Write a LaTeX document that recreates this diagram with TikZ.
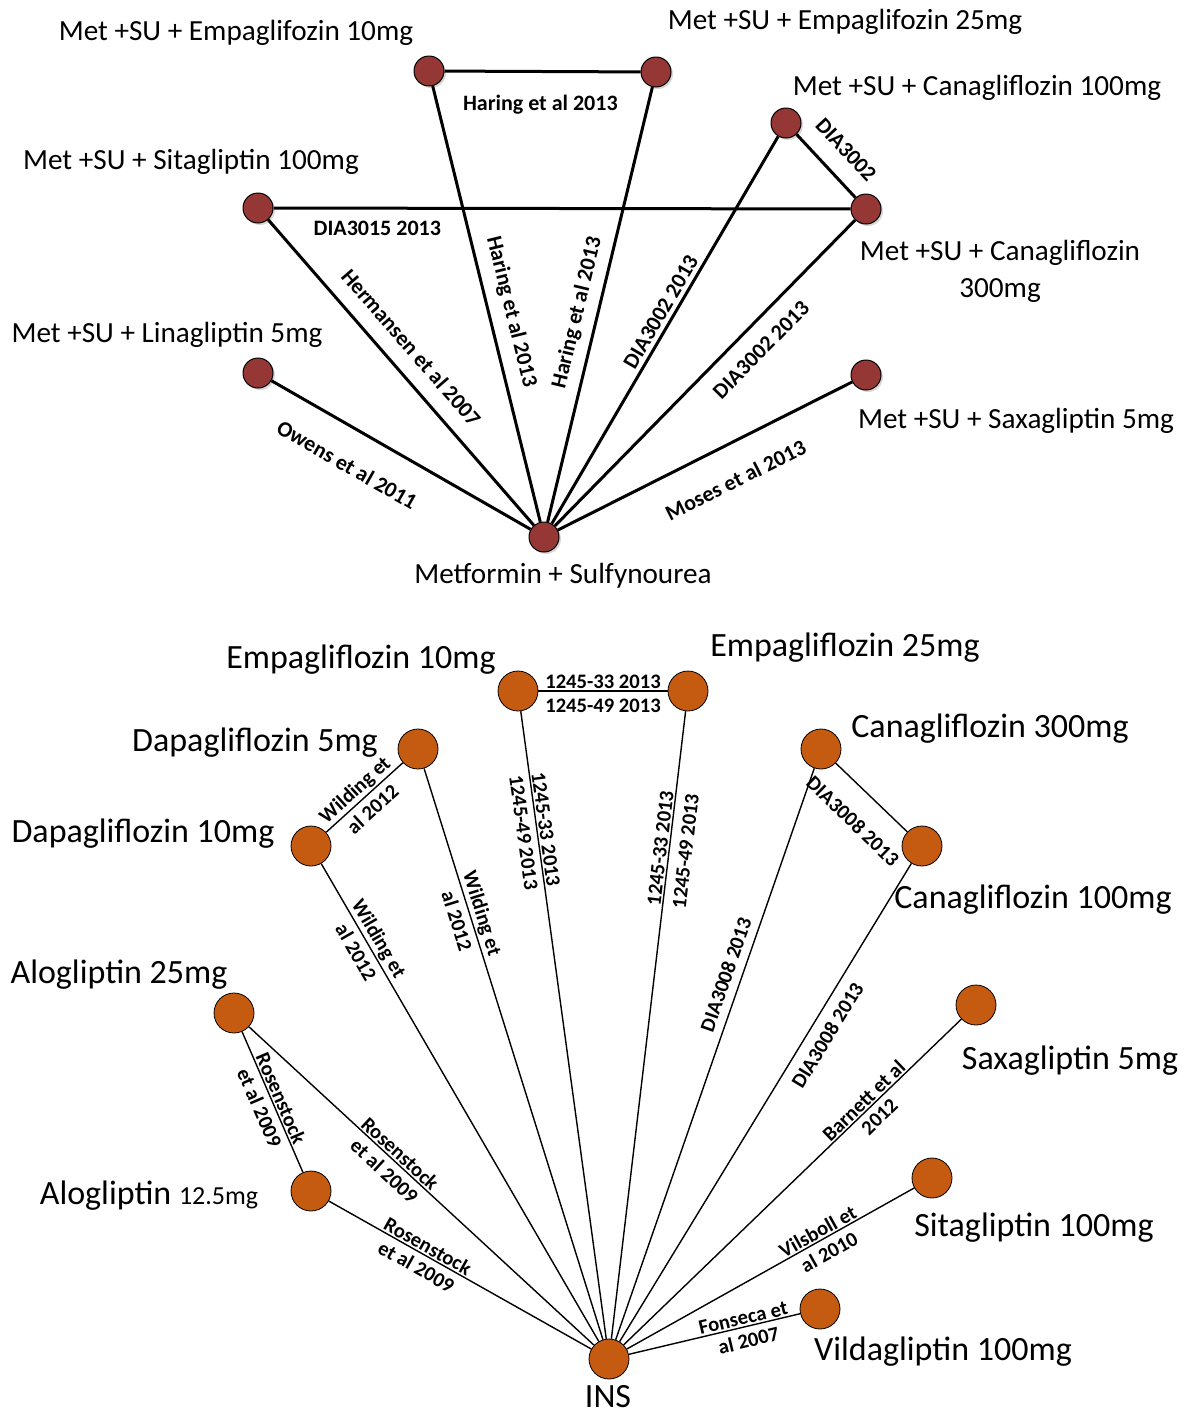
\documentclass[tikz,border=0pt]{standalone}
\usepackage{fontspec}
\setmainfont{Carlito}
\usetikzlibrary{shadows}
\definecolor{metrot}{HTML}{953735}
\definecolor{insorange}{HTML}{C55A11}
\tikzset{
  metpunkt/.style={circle, draw=black, line width=0.5pt, fill=metrot, minimum size=15pt, inner sep=0pt,
    drop shadow={shadow xshift=1pt, shadow yshift=-1pt, opacity=0.3}},
  inspunkt/.style={circle, draw=black, line width=0.4pt, fill=insorange, minimum size=20pt, inner sep=0pt},
  metname/.style={font=\fontsize{14.6}{18.5}\selectfont, inner sep=0pt, align=center},
  insname/.style={font=\fontsize{17}{20}\selectfont, inner sep=0pt},
  metkante/.style={line width=1.5pt},
  inskante/.style={line width=0.7pt},
  metstudie/.style={font=\bfseries\fontsize{11}{12}\selectfont, sloped, inner sep=1.5pt},
  insstudie/.style={font=\bfseries\fontsize{10.3}{11}\selectfont, sloped, inner sep=1pt},
  oben/.style={insstudie, above=-0.3pt},
  unten/.style={insstudie, below=2pt},
}
\begin{document}
\begin{tikzpicture}[x=0.5pt, y=-0.5pt]
  \useasboundingbox (0,0) rectangle (1186,1414);

  % Netz oben: Metformin + Sulfonylharnstoff
  \node[metpunkt] (e10)  at (429,71)  {};
  \node[metpunkt] (e25)  at (656,72)  {};
  \node[metpunkt] (c100) at (786,123) {};
  \node[metpunkt] (c300) at (866,209) {};
  \node[metpunkt] (s100) at (258,208) {};
  \node[metpunkt] (l5)   at (258,373) {};
  \node[metpunkt] (sx5)  at (866,375) {};
  \node[metpunkt] (ms)   at (544,537) {};

  \node[metname] (e10-t)  at (236,33)  {Met +SU + Empaglifozin 10mg};
  \node[metname] (e25-t)  at (845,22)  {Met +SU + Empaglifozin 25mg};
  \node[metname] (c100-t) at (977,88)  {Met +SU + Canagliflozin 100mg};
  \node[metname] (c300-t) at (1000,271) {Met +SU + Canagliflozin\\300mg};
  \node[metname] (s100-t) at (191,162) {Met +SU + Sitagliptin 100mg};
  \node[metname] (l5-t)   at (167,335) {Met +SU + Linagliptin 5mg};
  \node[metname] (sx5-t)  at (1016,421) {Met +SU + Saxagliptin 5mg};
  \node[metname] (ms-t)   at (563,576) {Metformin + Sulfynourea};

  % Studien oben
  \draw[metkante] (e10) -- node[metstudie, below=9.5pt, pos=.49] {Haring et al 2013} (e25);
  \draw[metkante] (s100) -- node[metstudie, below=4pt, pos=.18] {DIA3015 2013} (c300);
  \draw[metkante] (c100) -- node[metstudie, above=7pt, pos=.52] {DIA3002} (c300);
  \draw[metkante] (e10) -- node[metstudie, above=4pt, pos=.53] {Haring et al 2013} (ms);
  \draw[metkante] (ms) -- node[metstudie, above=3pt, pos=.47] {Haring et al 2013} (e25);
  \draw[metkante] (ms) -- node[metstudie, above=.5pt, pos=.53] {DIA3002 2013} (c100);
  \draw[metkante] (ms) -- node[metstudie, below=6pt, pos=.63] {DIA3002 2013} (c300);
  \draw[metkante] (s100) -- node[metstudie, above=6pt, pos=.47] {Hermansen et al 2007} (ms);
  \draw[metkante] (l5) -- node[metstudie, below=11.5pt, pos=.36] {Owens et al 2011} (ms);
  \draw[metkante] (ms) -- node[metstudie, below=11.5pt, pos=.55] {Moses et al 2013} (sx5);

  % Netz unten: Insulin
  \node[inspunkt] (e10b)  at (518,691)  {};
  \node[inspunkt] (e25b)  at (688,691)  {};
  \node[inspunkt] (d5)    at (418,749)  {};
  \node[inspunkt] (d10)   at (311,846)  {};
  \node[inspunkt] (c300b) at (821,749)  {};
  \node[inspunkt] (c100b) at (922,846)  {};
  \node[inspunkt] (a25)   at (234,1013) {};
  \node[inspunkt] (a12)   at (311,1191) {};
  \node[inspunkt] (sx5b)  at (976,1005) {};
  \node[inspunkt] (si100) at (932,1178) {};
  \node[inspunkt] (v100)  at (820,1309) {};
  \node[inspunkt] (ins)   at (609,1359) {};

  \node[insname] (e10b-t)  at (361,660)  {Empagliflozin 10mg};
  \node[insname] (e25b-t)  at (845,648)  {Empagliflozin 25mg};
  \node[insname] (d5-t)    at (255,743)  {Dapagliflozin 5mg};
  \node[insname] (d10-t)   at (143,834)  {Dapagliflozin 10mg};
  \node[insname] (c300b-t) at (990,729)  {Canagliflozin 300mg};
  \node[insname] (c100b-t) at (1033,900) {Canagliflozin 100mg};
  \node[insname] (a25-t)   at (119,975)  {Alogliptin 25mg};
  \node[insname] (a12-t)   at (149,1196) {Alogliptin {\fontsize{13}{15}\selectfont 12.5mg}};
  \node[insname] (sx5b-t)  at (1070,1061) {Saxagliptin 5mg};
  \node[insname] (si100-t) at (1034,1228) {Sitagliptin 100mg};
  \node[insname] (v100-t)  at (943,1352) {Vildagliptin 100mg};
  \node[insname] (ins-t)   at (608,1397) {INS};

  % Studien unten
  \draw[inskante] (e10b) -- node[oben] {1245-33 2013}
    node[insstudie, below=2.5pt] {1245-49 2013} (e25b);
  \draw[inskante] (e10b) -- node[oben, pos=.19] {1245-33 2013}
    node[unten, pos=.19] {1245-49 2013} (ins);
  \draw[inskante] (ins) -- node[oben, pos=.78] {1245-33 2013}
    node[insstudie, below=3.5pt, pos=.78] {1245-49 2013} (e25b);
  \draw[inskante] (d10) -- node[oben, pos=.48] {Wilding et}
    node[unten, pos=.48] {al 2012} (d5);
  \draw[inskante] (d10) -- node[oben, pos=.17] {Wilding et}
    node[unten, pos=.17] {al 2012} (ins);
  \draw[inskante] (d5) -- node[oben, pos=.26] {Wilding et}
    node[unten, pos=.26] {al 2012} (ins);
  \draw[inskante] (c300b) -- node[insstudie, below=10pt, pos=.53] {DIA3008 2013} (c100b);
  \draw[inskante] (ins) -- node[insstudie, above=3pt, pos=.63] {DIA3008 2013} (c300b);
  \draw[inskante] (ins) -- node[insstudie, below=4pt, pos=.66] {DIA3008 2013} (c100b);
  \draw[inskante] (ins) -- node[oben, pos=.73] {Barnett et al}
    node[unten, pos=.73] {2012} (sx5b);
  \draw[inskante] (ins) -- node[oben, pos=.68] {Vilsboll et}
    node[unten, pos=.68] {al 2010} (si100);
  \draw[inskante] (ins) -- node[oben, pos=.68] {Fonseca et}
    node[unten, pos=.68] {al 2007} (v100);
  \draw[inskante] (a25) -- node[oben] {Rosenstock}
    node[unten] {et al 2009} (a12);
  \draw[inskante] (a25) -- node[oben, pos=.42] {Rosenstock}
    node[unten, pos=.42] {et al 2009} (ins);
  \draw[inskante] (a12) -- node[oben, pos=.36] {Rosenstock}
    node[unten, pos=.36] {et al 2009} (ins);
\end{tikzpicture}
\end{document}
